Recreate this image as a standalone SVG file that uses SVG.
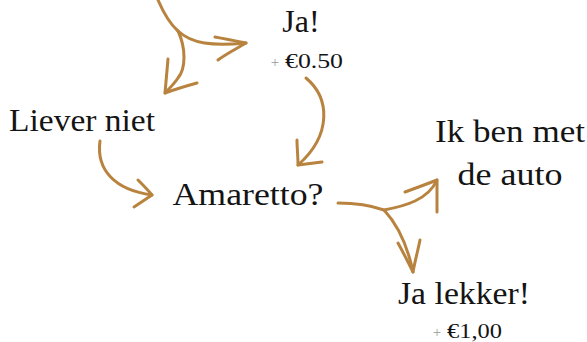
<svg xmlns="http://www.w3.org/2000/svg" width="587" height="342" viewBox="0 0 587 342">
<style>
.lbl{font-family:"Liberation Serif","DejaVu Serif",serif;fill:#141414;text-anchor:middle}
.big{font-size:32px}
.sm{font-size:22px;text-anchor:start}
.plus{font-family:"Liberation Serif","DejaVu Serif",serif;font-size:15px;fill:#9a9a9a;text-anchor:middle}
.arr{fill:none;stroke:#B8833F;stroke-width:3;stroke-linecap:round;stroke-linejoin:round}
</style>
<rect width="587" height="342" fill="#ffffff"/>
<g id="connectors">
  <path class="arr" d="M158,0 C164,14 170,24 178,31 C192,44 212,46 246,43"/>
  <path class="arr" d="M215,37 C226,39 236,41 246,43 C236,49 226,54 218,60"/>
  <path class="arr" d="M178,31 C186,48 186,68 178,78 C174,84 170,88 165,93"/>
  <path class="arr" d="M168,59 C167,70 166,82 165,93 C176,89 186,86 197,83"/>
  <path class="arr" d="M306,78 C330,98 332,135 298,165"/>
  <path class="arr" d="M297,140 C297,148 298,156 298,165 C306,164 314,163 322,162"/>
  <path class="arr" d="M100,141 C96,170 115,190 152,195"/>
  <path class="arr" d="M138,180 C143,185 148,190 152,195 C146,199 140,203 134,207"/>
  <path class="arr" d="M338,203 C355,203 370,205 384,210 C405,206 428,200 437,180"/>
  <path class="arr" d="M405,192 C416,188 427,184 437,180 C437,190 437,201 437,212"/>
  <path class="arr" d="M384,210 C398,225 408,248 413,272"/>
  <path class="arr" d="M398,243 C403,252 408,262 413,272 C415,261 418,250 420,240"/>
</g>
<g id="node-ja">
  <text class="lbl big" x="301" y="32">Ja!</text>
  <text class="plus" x="275" y="67">+</text>
  <text class="lbl sm" x="285" y="68" textLength="58" lengthAdjust="spacingAndGlyphs">€0.50</text>
</g>
<g id="node-liever-niet">
  <text class="lbl big" x="82" y="131" textLength="146" lengthAdjust="spacingAndGlyphs">Liever niet</text>
</g>
<g id="node-amaretto">
  <text class="lbl big" x="248" y="205" textLength="151" lengthAdjust="spacingAndGlyphs">Amaretto?</text>
</g>
<g id="node-auto">
  <text class="lbl big" x="510" y="142" textLength="150" lengthAdjust="spacingAndGlyphs">Ik ben met</text>
  <text class="lbl big" x="510" y="185" textLength="105" lengthAdjust="spacingAndGlyphs">de auto</text>
</g>
<g id="node-ja-lekker">
  <text class="lbl big" x="464" y="304" textLength="132" lengthAdjust="spacingAndGlyphs">Ja lekker!</text>
  <text class="plus" x="437" y="337">+</text>
  <text class="lbl sm" x="447" y="338" textLength="55" lengthAdjust="spacingAndGlyphs">€1,00</text>
</g>
</svg>
